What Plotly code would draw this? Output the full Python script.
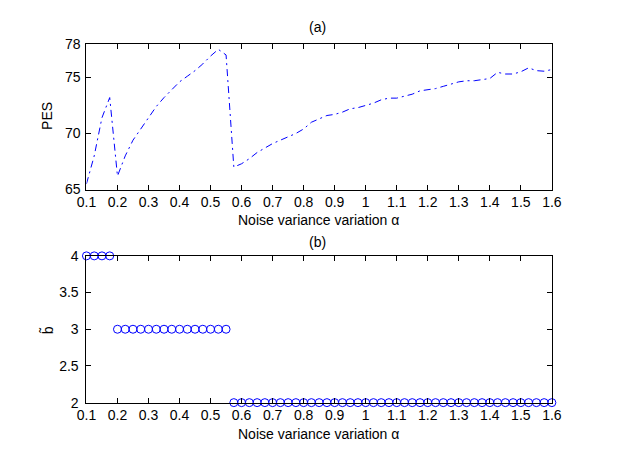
import plotly.graph_objects as go

alpha = [0.1 + 0.025 * i for i in range(61)]

pes = [65.5, 68.0, 71.4, 73.2, 66.2, 68.0, 69.4, 70.4, 71.4, 72.4,
       73.2, 73.9, 74.6, 75.1, 75.6, 76.2, 76.9, 77.5, 77.0, 67.0,
       67.3, 67.75, 68.3, 68.7, 69.1, 69.4, 69.7, 70.0, 70.4, 71.0,
       71.3, 71.6, 71.7, 71.9, 72.2, 72.3, 72.5, 72.7, 73.0, 73.15,
       73.15, 73.3, 73.5, 73.8, 73.9, 74.0, 74.2, 74.4, 74.6, 74.7,
       74.7, 74.8, 74.9, 75.45, 75.3, 75.3, 75.5, 75.85, 75.6, 75.55,
       75.7]

b_opt = [4] * 4 + [3] * 15 + [2] * 42

x_ticks = [0.1, 0.2, 0.3, 0.4, 0.5, 0.6, 0.7, 0.8, 0.9, 1.0, 1.1, 1.2, 1.3, 1.4, 1.5, 1.6]
x_ticklabels = ["0.1", "0.2", "0.3", "0.4", "0.5", "0.6", "0.7", "0.8", "0.9", "1",
                "1.1", "1.2", "1.3", "1.4", "1.5", "1.6"]
y1_ticks = [65, 70, 75, 78]
y2_ticks = [2, 2.5, 3, 3.5, 4]

W, H = 618, 465
FONT = "Liberation Sans, Arial, sans-serif"

fig = go.Figure()
fig.add_trace(go.Scatter(x=alpha, y=pes, mode="lines",
                         line=dict(color="#0000ff", width=1, dash="7px,4px,2px,4px"),
                         xaxis="x", yaxis="y", showlegend=False))
fig.add_trace(go.Scatter(x=alpha, y=b_opt, mode="markers",
                         marker=dict(symbol="circle-open", size=8, color="#0000ff",
                                     line=dict(width=1, color="#0000ff")),
                         cliponaxis=False,
                         xaxis="x2", yaxis="y2", showlegend=False))

xd = [79 / W, 560 / W]
axis_common = dict(showline=True, linecolor="black", linewidth=1, mirror="allticks",
                   ticks="inside", ticklen=5, tickcolor="black", showgrid=False,
                   zeroline=False, tickfont=dict(family=FONT, size=14, color="black"))

fig.update_layout(
    width=W, height=H,
    margin=dict(l=0, r=0, t=0, b=0),
    paper_bgcolor="white", plot_bgcolor="white",
    font=dict(family=FONT, size=14, color="black"),
    xaxis=dict(domain=xd, range=[0.1, 1.6], tickvals=x_ticks, ticktext=x_ticklabels,
               anchor="y", **axis_common),
    yaxis=dict(domain=[1 - 188 / H, 1 - 37 / H], range=[65, 78], tickvals=y1_ticks,
               anchor="x", ticklabelstandoff=2, **axis_common),
    xaxis2=dict(domain=xd, range=[0.1, 1.6], tickvals=x_ticks, ticktext=x_ticklabels,
                anchor="y2", **axis_common),
    yaxis2=dict(domain=[1 - 408.7 / H, 1 - 256.7 / H], range=[2, 4], tickvals=y2_ticks,
                ticktext=["2", "2.5", "3", "3.5", "4"], anchor="x2",
                ticklabelstandoff=4, **axis_common),
)

ann = [
    dict(text="(a)", x=318 / W, y=1 - 20 / H),
    dict(text="(b)", x=318 / W, y=1 - 242 / H),
    dict(text="Noise variance variation α", x=319 / W, y=1 - 220 / H),
    dict(text="Noise variance variation α", x=319 / W, y=1 - 441 / H),
    dict(text="PES", x=38 / W, y=1 - 112 / H, textangle=-90),
    dict(text="b\u0303", x=38 / W, y=1 - 334 / H, textangle=-90),
]
for a in ann:
    fig.add_annotation(xref="paper", yref="paper", showarrow=False,
                       xanchor="center", yanchor="middle",
                       font=dict(family=FONT, size=14, color="black"), **a)

fig.write_html("out.html")
